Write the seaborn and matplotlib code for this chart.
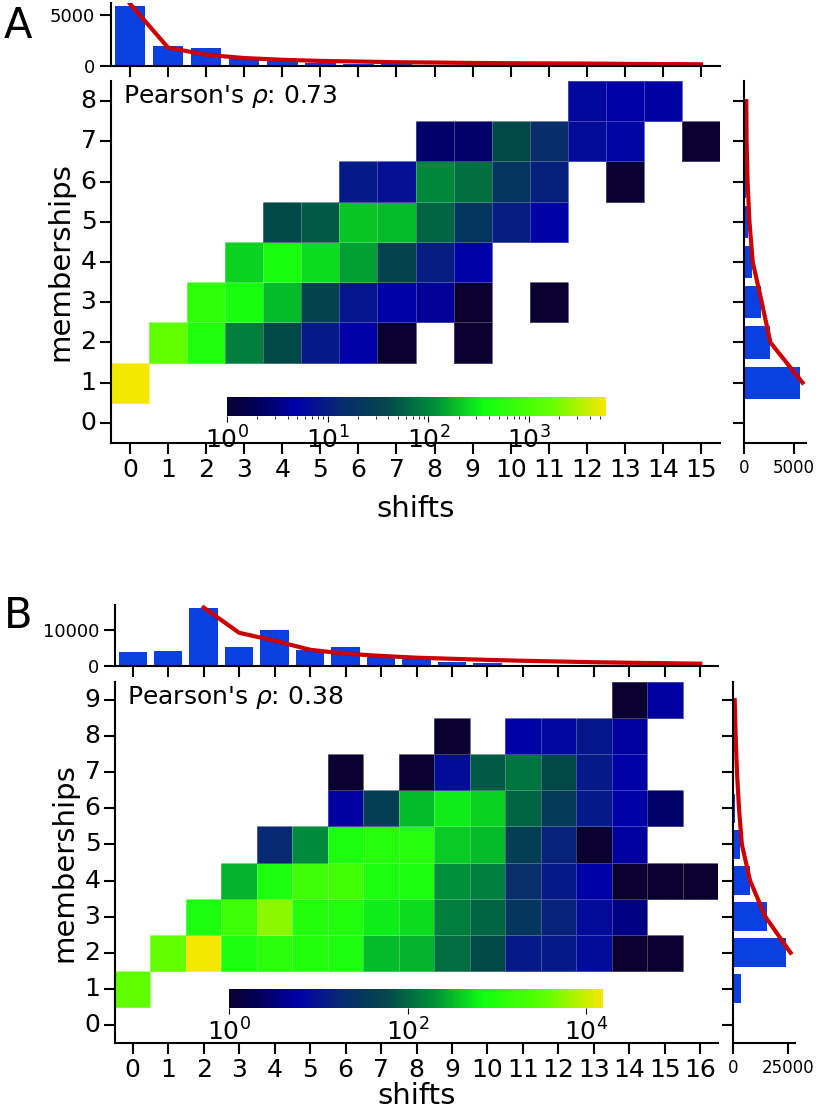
import numpy as np
import pandas as pd
import matplotlib
matplotlib.use("Agg")
import matplotlib.pyplot as plt
import seaborn as sns
from matplotlib.colors import LogNorm, LinearSegmentedColormap
from matplotlib.ticker import LogLocator, NullFormatter

# ---------------- data ----------------
# panel A: rows = memberships 0..8, cols = shifts 0..15 (0 = empty cell)
shifts_A = list(range(16))
members_A = list(range(9))
counts_A = [
    [0, 0, 0, 0, 0, 0, 0, 0, 0, 0, 0, 0, 0, 0, 0, 0],
    [5800, 0, 0, 0, 0, 0, 0, 0, 0, 0, 0, 0, 0, 0, 0, 0],
    [0, 1600, 480, 90, 38, 9, 4.7, 1, 0, 1, 0, 0, 0, 0, 0, 0],
    [0, 0, 660, 420, 180, 32, 8, 5, 4, 1, 0, 1, 0, 0, 0, 0],
    [0, 0, 0, 230, 420, 250, 140, 32, 10, 5, 0, 0, 0, 0, 0, 0],
    [0, 0, 0, 0, 38, 50, 200, 180, 60, 20, 10, 5, 0, 0, 0, 0],
    [0, 0, 0, 0, 0, 0, 9, 7, 100, 70, 20, 11, 0, 1, 0, 0],
    [0, 0, 0, 0, 0, 0, 0, 0, 2.4, 2.4, 38, 16, 6.5, 5.6, 0, 1],
    [0, 0, 0, 0, 0, 0, 0, 0, 0, 0, 0, 0, 6, 4.7, 4.5, 0],
]
top_bars_A = [5850, 1960, 1720, 780, 500, 270, 240, 170, 135, 100, 40, 20, 10, 5, 3, 1]
top_fit_A = [6100, 1800, 1100, 780, 610, 500, 440, 370, 340, 300, 270, 255, 240, 210, 190, 170]
right_bars_A = [0, 5650, 2660, 1720, 780, 420, 160, 60, 15]
right_fit_x_A = [1, 2, 3, 4, 5, 6, 7, 8]
right_fit_A = [5900, 2660, 1790, 880, 550, 360, 260, 230]

# panel B: rows = memberships 0..9, cols = shifts 0..16
shifts_B = list(range(17))
members_B = list(range(10))
counts_B = [
    [0] * 17,
    [3500, 0, 0, 0, 0, 0, 0, 0, 0, 0, 0, 0, 0, 0, 0, 0, 0],
    [0, 3600, 15500, 900, 1200, 1000, 900, 320, 300, 110, 57, 12, 12, 8, 1, 1, 0],
    [0, 0, 900, 1800, 5500, 1000, 1000, 580, 480, 150, 95, 30, 15, 8, 3.5, 0, 0],
    [0, 0, 0, 300, 900, 1800, 2000, 900, 900, 200, 150, 22, 12, 5.6, 1, 1, 1],
    [0, 0, 0, 0, 18, 185, 900, 1100, 1100, 400, 320, 40, 15, 1, 5, 0, 0],
    [0, 0, 0, 0, 0, 0, 5, 40, 320, 580, 420, 95, 35, 12, 6, 2.6, 0],
    [0, 0, 0, 0, 0, 0, 1, 0, 1, 8, 77, 125, 57, 12, 6, 0, 0],
    [0, 0, 0, 0, 0, 0, 0, 0, 0, 1, 0, 5.5, 7, 11, 5, 0, 0],
    [0, 0, 0, 0, 0, 0, 0, 0, 0, 0, 0, 0, 0, 0, 1, 5, 0],
]
top_bars_B = [3800, 4200, 16000, 5300, 10000, 4400, 5300, 2500, 2300, 1000, 750, 200, 100, 60, 30, 10, 3]
top_fit_x_B = list(range(2, 17))
top_fit_B = [16200, 9200, 7000, 4500, 3400, 2800, 2300, 2000, 1700, 1450, 1250, 1050, 900, 780, 650]
right_bars_B = [0, 3400, 24100, 15200, 7900, 3300, 700, 200, 30, 6]
right_fit_x_B = [2, 3, 4, 5, 6, 7, 8, 9]
right_fit_B = [26000, 14600, 7700, 4000, 2700, 1800, 1200, 750]

pearson_A = 0.73
pearson_B = 0.38

# ---------------- style ----------------
W, H = 816, 1109
bar_color = "#0a40e0"
fit_color = "#cc0000"
cmap = LinearSegmentedColormap.from_list("shift_cmap", [
    (0.00, "#0a0030"), (0.08, "#00005a"), (0.18, "#0000aa"),
    (0.30, "#082a70"), (0.42, "#024848"), (0.55, "#00903a"),
    (0.68, "#10ff10"), (0.85, "#60ff00"), (1.00, "#f5e800"),
])

plt.rcParams["font.family"] = ["DejaVu Sans"]
plt.rcParams["axes.linewidth"] = 1.5
plt.rcParams["xtick.major.width"] = 1.5
plt.rcParams["ytick.major.width"] = 1.5
plt.rcParams["xtick.major.size"] = 8
plt.rcParams["ytick.major.size"] = 8


def box(l, t, r, b):
    return [l / W, 1 - b / H, (r - l) / W, (b - t) / H]


fig = plt.figure(figsize=(W / 100, H / 100), dpi=100)


def panel(letter, top_y, heat_box, top_box, right_box, cb_box, shifts, members,
          counts, top_bars, top_fit_x, top_fit, right_bars, right_fit_x, right_fit,
          top_max, top_tick, right_max, right_tick, cb_ticks, cb_minor, rho, xpad):
    df = pd.DataFrame(counts, index=members, columns=shifts).astype(float)
    vmax = df.values.max()
    ax = fig.add_axes(box(*heat_box))
    sns.heatmap(df.where(df > 0), ax=ax, cmap=cmap, norm=LogNorm(vmin=1, vmax=vmax),
                cbar=False, linewidths=0.4, linecolor=(1, 1, 1, 0.25))
    ax.invert_yaxis()
    for s in ["left", "bottom"]:
        ax.spines[s].set_visible(True)
    ax.tick_params(length=8, width=1.5, labelsize=18, pad=2.5)
    ax.set_yticklabels(members, rotation=0)
    ax.set_xticklabels(shifts, rotation=0)
    ax.set_xlabel("shifts", fontsize=21, labelpad=xpad)
    ax.set_ylabel("memberships", fontsize=21)
    ax.text(0.02, 0.995, f"Pearson's $\\rho$: {rho:.2f}", transform=ax.transAxes,
            va="top", ha="left", fontsize=18)

    # colour bar inside the heatmap
    cax = fig.add_axes(box(*cb_box))
    cb = fig.colorbar(ax.collections[0], cax=cax, orientation="horizontal")
    cb.outline.set_visible(False)
    cb.set_ticks(cb_ticks)
    if cb_minor:
        cax.xaxis.set_minor_locator(LogLocator(subs=np.arange(2, 10)))
        cax.xaxis.set_minor_formatter(NullFormatter())
    else:
        cax.xaxis.set_minor_locator(matplotlib.ticker.NullLocator())
    cax.tick_params(labelsize=18, length=4, width=0.8)
    cax.tick_params(which="minor", length=2.5, width=0.6)

    # top marginal
    axt = fig.add_axes(box(*top_box))
    sns.barplot(x=shifts, y=top_bars, ax=axt, color=bar_color, native_scale=True,
                width=0.8, saturation=1)
    sns.lineplot(x=top_fit_x, y=top_fit, ax=axt, color=fit_color, linewidth=3)
    axt.set_xlim(-0.5, len(shifts) - 0.5)
    axt.set_ylim(0, top_max)
    axt.set_xticks(shifts)
    axt.set_xticklabels([])
    axt.set_yticks([0, top_tick])
    axt.tick_params(labelsize=13)
    axt.set_xlabel("")
    axt.set_ylabel("")
    sns.despine(ax=axt)

    # right marginal
    axr = fig.add_axes(box(*right_box))
    sns.barplot(x=right_bars, y=members, ax=axr, color=bar_color, orient="h",
                native_scale=True, width=0.8, saturation=1)
    sns.lineplot(x=right_fit, y=right_fit_x, ax=axr, color=fit_color, linewidth=3,
                 sort=False, orient="y")
    for ln in axr.lines:
        ln.set_clip_on(False)
    axr.set_ylim(-0.5, len(members) - 0.5)
    axr.set_xlim(0, right_max)
    axr.set_yticks(members)
    axr.set_yticklabels([])
    axr.set_xticks([0, right_tick])
    axr.tick_params(labelsize=12)
    axr.set_xlabel("")
    axr.set_ylabel("")
    sns.despine(ax=axr)

    fig.text(4 / W, 1 - top_y / H, letter, fontsize=30, va="top", ha="left")


panel("A", 5, (111, 81, 720, 443), (111, 3, 720, 66), (744, 81, 806, 443),
      (227, 397, 606, 416), shifts_A, members_A, counts_A, top_bars_A, shifts_A,
      top_fit_A, right_bars_A, right_fit_x_A, right_fit_A,
      6180, 5000, 6250, 5000, [1, 10, 100, 1000], True, pearson_A, 10)

panel("B", 595, (115, 682, 718, 1043), (115, 605, 718, 666), (733, 682, 795, 1043),
      (229, 989, 603, 1008), shifts_B, members_B, counts_B, top_bars_B, top_fit_x_B,
      top_fit_B, right_bars_B, right_fit_x_B, right_fit_B,
      16900, 10000, 28000, 25000, [1, 100, 10000], False, pearson_B, 0)

fig.savefig("out.png", dpi=100)
